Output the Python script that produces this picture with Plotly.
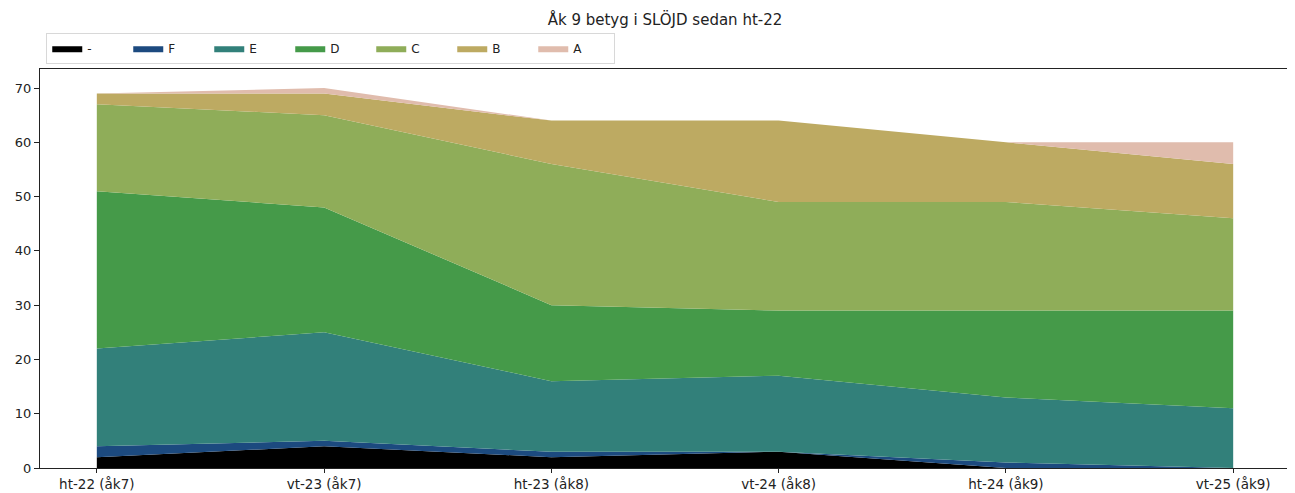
"""Stacked area chart of grade distribution (Åk 9, SLÖJD)."""

import plotly.graph_objects as go

terms = ["ht-22 (åk7)", "vt-23 (åk7)", "ht-23 (åk8)", "vt-24 (åk8)", "ht-24 (åk9)", "vt-25 (åk9)"]

grade_none = [2, 4, 2, 3, 0, 0]
grade_f = [2, 1, 1, 0, 1, 0]
grade_e = [18, 20, 13, 14, 12, 11]
grade_d = [29, 23, 14, 12, 16, 18]
grade_c = [16, 17, 26, 20, 20, 17]
grade_b = [2, 4, 8, 15, 11, 10]
grade_a = [0, 1, 0, 0, 0, 4]

series = [
    ("-", grade_none, "#000000"),
    ("F", grade_f, "#1c4a7f"),
    ("E", grade_e, "#32807a"),
    ("D", grade_d, "#459a49"),
    ("C", grade_c, "#8fad59"),
    ("B", grade_b, "#bdaa62"),
    ("A", grade_a, "#e0bcad"),
]

fig = go.Figure()
x_idx = list(range(len(terms)))
for name, values, color in series:
    fig.add_trace(
        go.Scatter(
            x=x_idx,
            y=values,
            name=name,
            mode="lines",
            stackgroup="grades",
            line=dict(width=0, color=color),
            fillcolor=color,
        )
    )

# page body adds ~8px offset, so the figure is a bit smaller than the window
fig.update_layout(
    width=1287,
    height=485,
    plot_bgcolor="white",
    paper_bgcolor="white",
    margin=dict(l=32, r=5, t=61, b=25),
    title=dict(
        text="Åk 9 betyg i SLÖJD sedan ht-22",
        x=0.5,
        xanchor="center",
        xref="paper",
        y=0.975,
        yanchor="middle",
        font=dict(family="DejaVu Sans", size=15, color="#222222"),
    ),
    legend=dict(
        orientation="h",
        x=0.005,
        xanchor="left",
        y=1.013,
        yanchor="bottom",
        bgcolor="white",
        bordercolor="#d8d8d8",
        borderwidth=1,
        entrywidth=36,
        font=dict(family="DejaVu Sans", size=12, color="#222222"),
        traceorder="normal",
    ),
    showlegend=True,
    hovermode=False,
)
fig.update_xaxes(
    tickvals=x_idx,
    ticktext=terms,
    range=[-0.25, 5.25],
    showgrid=False,
    zeroline=False,
    showline=True,
    linecolor="#222222",
    linewidth=1,
    mirror=True,
    ticks="outside",
    ticklen=4,
    tickcolor="#222222",
    tickfont=dict(family="DejaVu Sans", size=13.5, color="#222222"),
    automargin=False,
)
fig.update_yaxes(
    range=[0, 73.5],
    tickvals=[0, 10, 20, 30, 40, 50, 60, 70],
    showgrid=False,
    zeroline=False,
    showline=True,
    linecolor="#222222",
    linewidth=1,
    ticks="outside",
    ticklen=5,
    tickcolor="#222222",
    tickfont=dict(family="DejaVu Sans", size=13, color="#222222"),
    automargin=False,
)

fig.write_html("out.html")
